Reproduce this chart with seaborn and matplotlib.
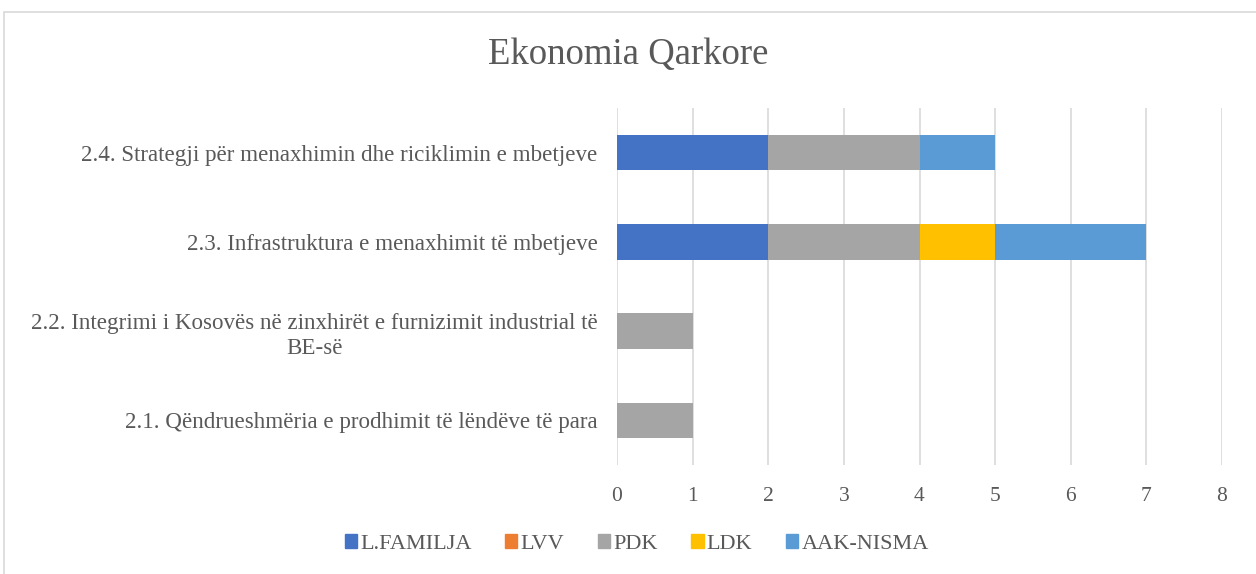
import numpy as np
import matplotlib
matplotlib.use("Agg")
import matplotlib.pyplot as plt
import pandas as pd
import seaborn as sns
from matplotlib.patches import Rectangle

#==================== data ====================
kategorite = [
    "2.4. Strategji për menaxhimin dhe riciklimin e mbetjeve",
    "2.3. Infrastruktura e menaxhimit të mbetjeve",
    "2.2. Integrimi i Kosovës në zinxhirët e furnizimit industrial të\nBE-së",
    "2.1. Qëndrueshmëria e prodhimit të lëndëve të para",
]
partite = ["L.FAMILJA", "LVV", "PDK", "LDK", "AAK-NISMA"]
l_familja = [2, 2, 0, 0]
lvv = [0, 0, 0, 0]
pdk = [2, 2, 1, 1]
ldk = [0, 1, 0, 0]
aak_nisma = [1, 2, 0, 0]
ngjyrat = ["#4472C4", "#ED7D31", "#A5A5A5", "#FFC000", "#5B9BD5"]

#==================== style ====================
sns.set_style("white")
plt.rcParams["font.family"] = ["Liberation Serif", "DejaVu Serif"]
tekst = "#595959"

df = pd.DataFrame({"kategoria": kategorite, "L.FAMILJA": l_familja, "LVV": lvv,
                   "PDK": pdk, "LDK": ldk, "AAK-NISMA": aak_nisma})
kum = df[partite].cumsum(axis=1)

fig = plt.figure(figsize=(12.56, 5.74), dpi=100)
ax = fig.add_axes([617 / 1256, 1 - 465 / 574, (1222 - 617) / 1256, (465 - 108) / 574])

# stacked: draw cumulative totals from the last series back to the first
for p, c in reversed(list(zip(partite, ngjyrat))):
    sns.barplot(x=kum[p], y=df["kategoria"], orient="h", color=c, width=0.4,
                ax=ax, saturation=1, zorder=3, edgecolor="none")

ax.set_xlim(0, 8)
ax.set_ylim(3.5, -0.5)
ax.set_xticks(range(0, 9))
ax.xaxis.grid(True, color="#D9D9D9", linewidth=1.2, zorder=0)
ax.set_axisbelow(True)
sns.despine(ax=ax, left=True, bottom=True)
ax.set_xlabel("")
ax.set_ylabel("")
ax.tick_params(axis="x", length=0, pad=16, labelsize=15.5, labelcolor=tekst)
ax.tick_params(axis="y", length=0, pad=14, labelsize=16.6, labelcolor=tekst)
for lbl in ax.get_yticklabels():
    lbl.set_multialignment("center")
    lbl.set_linespacing(1.3)

fig.text(0.5, 1 - 55 / 574, "Ekonomia Qarkore", ha="center", va="center",
         fontsize=26.5, color=tekst)

handles = [Rectangle((0, 0), 1, 1, color=c) for c in ngjyrat]
fig.legend(handles, partite, loc="center", bbox_to_anchor=(0.507, 1 - 544 / 574),
           ncol=5, frameon=False, fontsize=16, handlelength=0.55, handleheight=0.55,
           handletextpad=0.15, columnspacing=1.5, labelcolor=tekst)

# chart area border (left and top visible in the crop)
fig.patches.append(Rectangle((4 / 1256, -0.1), 1.2, 1.1 - 12 / 574, transform=fig.transFigure,
                             fill=False, edgecolor="#D9D9D9", linewidth=1.2))

fig.savefig("out.png", dpi=100)
